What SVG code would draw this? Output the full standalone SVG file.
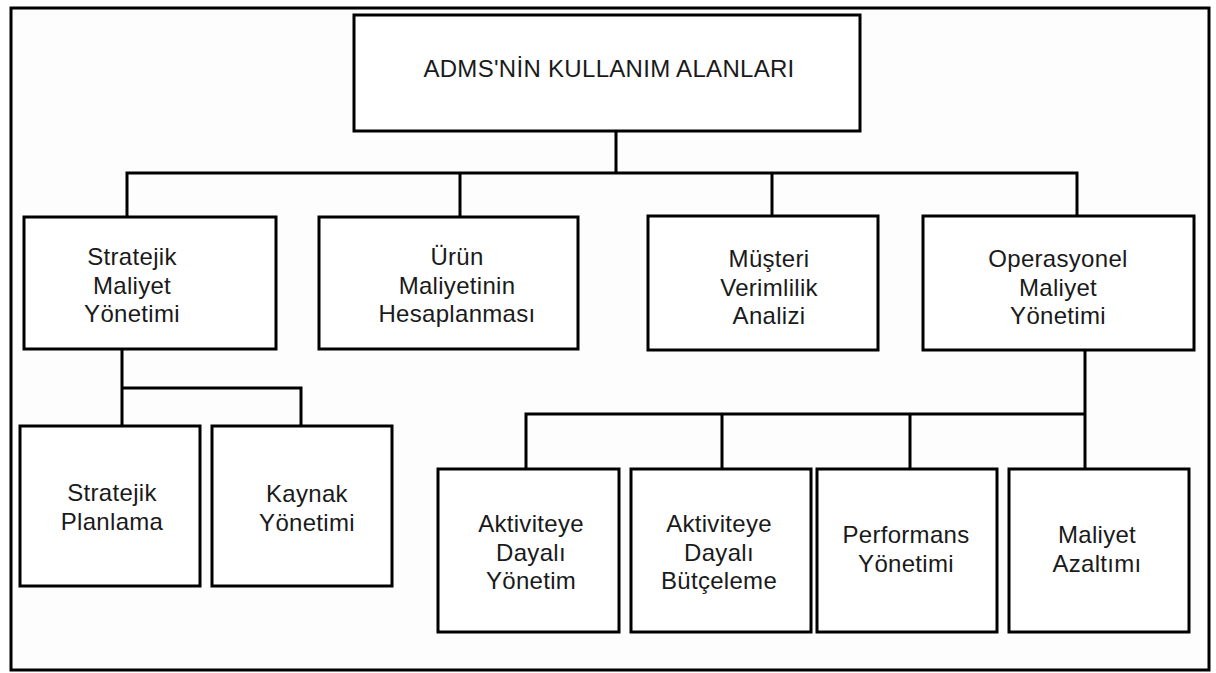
<svg xmlns="http://www.w3.org/2000/svg" width="1216" height="673" viewBox="0 0 1216 673">
  <style>
    .box { fill: #ffffff; stroke: #000000; stroke-width: 3; }
    .frame { fill: #fdfdfd; stroke: #000000; stroke-width: 3; }
    .link { fill: none; stroke: #000000; stroke-width: 3; stroke-linejoin: miter; stroke-linecap: square; }
    .lbl { font-family: "Liberation Sans", Arial, sans-serif; font-size: 24px; letter-spacing: 0.3px; fill: #1a1a1a; text-anchor: middle; }
  </style>

  <!-- outer frame -->
  <rect class="frame" x="11" y="8" width="1198" height="662"/>

  <!-- connectors -->
  <g id="connectors">
    <!-- root to level 2 -->
    <path class="link" d="M616 131 V173 M127 217 V173 H1077 V217 M460 173 V217 M772 173 V217"/>
    <!-- strategic cost management to its children -->
    <path class="link" d="M122 349 V388 M122 426 V388 H301 V426"/>
    <!-- operational cost management to its children -->
    <path class="link" d="M1085 351 V414 M526 469 V414 H1085 V469 M722 414 V469 M910 414 V469"/>
  </g>

  <g id="root">
    <rect class="box" x="354" y="15" width="506" height="116"/>
    <text class="lbl" x="609" y="77">ADMS'NİN KULLANIM ALANLARI</text>
  </g>

  <g id="stratejik-maliyet">
    <rect class="box" x="24" y="217" width="252" height="132"/>
    <text class="lbl" x="132"><tspan x="132" y="265">Stratejik</tspan><tspan x="132" y="294">Maliyet</tspan><tspan x="132" y="322">Yönetimi</tspan></text>
  </g>

  <g id="urun-maliyeti">
    <rect class="box" x="319" y="217" width="259" height="132"/>
    <text class="lbl" x="457"><tspan x="457" y="265">Ürün</tspan><tspan x="457" y="294">Maliyetinin</tspan><tspan x="457" y="322">Hesaplanması</tspan></text>
  </g>

  <g id="musteri-verimlilik">
    <rect class="box" x="648" y="216" width="230" height="134"/>
    <text class="lbl" x="769"><tspan x="769" y="267">Müşteri</tspan><tspan x="769" y="296">Verimlilik</tspan><tspan x="769" y="324">Analizi</tspan></text>
  </g>

  <g id="operasyonel-maliyet">
    <rect class="box" x="923" y="216" width="271" height="134"/>
    <text class="lbl" x="1058"><tspan x="1058" y="267">Operasyonel</tspan><tspan x="1058" y="296">Maliyet</tspan><tspan x="1058" y="324">Yönetimi</tspan></text>
  </g>

  <g id="stratejik-planlama">
    <rect class="box" x="20" y="426" width="180" height="160"/>
    <text class="lbl" x="112"><tspan x="112" y="501">Stratejik</tspan><tspan x="112" y="530">Planlama</tspan></text>
  </g>

  <g id="kaynak-yonetimi">
    <rect class="box" x="212" y="426" width="180" height="160"/>
    <text class="lbl" x="307"><tspan x="307" y="502">Kaynak</tspan><tspan x="307" y="531">Yönetimi</tspan></text>
  </g>

  <g id="aktivite-yonetim">
    <rect class="box" x="438" y="469" width="181" height="163"/>
    <text class="lbl" x="531"><tspan x="531" y="532">Aktiviteye</tspan><tspan x="531" y="561">Dayalı</tspan><tspan x="531" y="589">Yönetim</tspan></text>
  </g>

  <g id="aktivite-butceleme">
    <rect class="box" x="631" y="469" width="180" height="163"/>
    <text class="lbl" x="719"><tspan x="719" y="532">Aktiviteye</tspan><tspan x="719" y="561">Dayalı</tspan><tspan x="719" y="589">Bütçeleme</tspan></text>
  </g>

  <g id="performans-yonetimi">
    <rect class="box" x="817" y="469" width="180" height="163"/>
    <text class="lbl" x="906"><tspan x="906" y="543">Performans</tspan><tspan x="906" y="572">Yönetimi</tspan></text>
  </g>

  <g id="maliyet-azaltimi">
    <rect class="box" x="1009" y="469" width="180" height="163"/>
    <text class="lbl" x="1097"><tspan x="1097" y="543">Maliyet</tspan><tspan x="1097" y="572">Azaltımı</tspan></text>
  </g>
</svg>
